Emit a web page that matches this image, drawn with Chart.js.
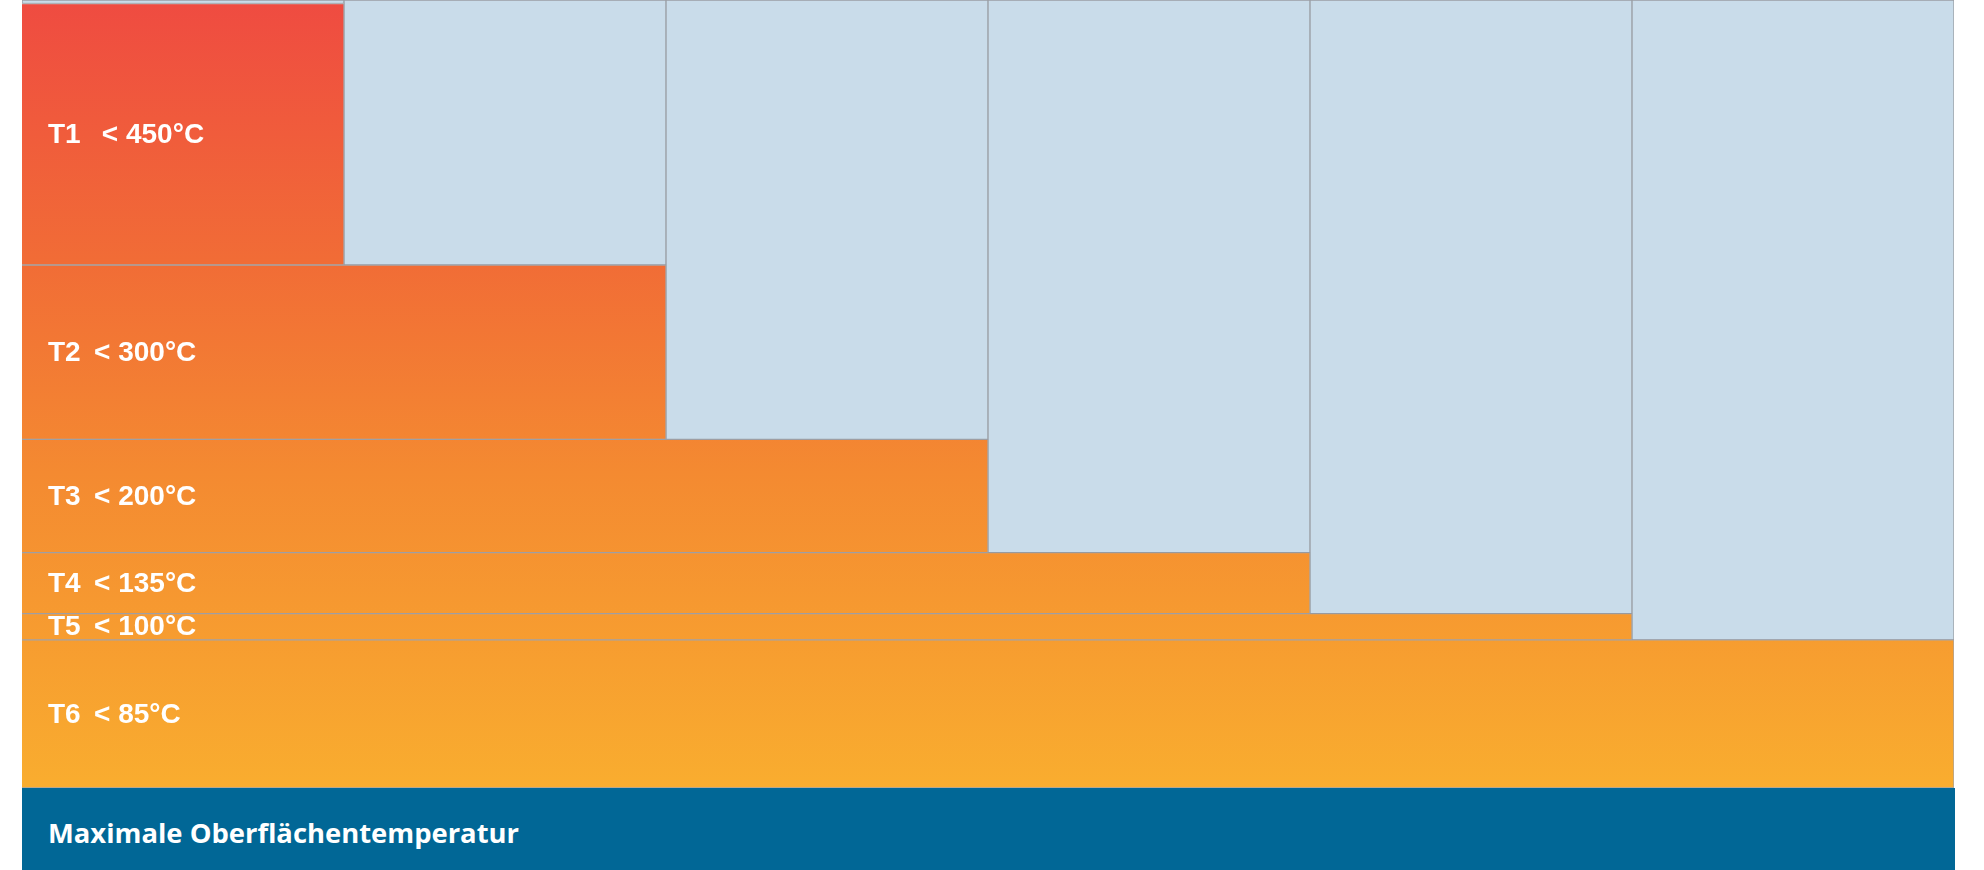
<!DOCTYPE html>
<html>
<head>
<meta charset="utf-8">
<script src="https://cdn.jsdelivr.net/npm/chart.js@4/dist/chart.umd.min.js"></script>
<style>
  body { margin: 0; background: #fff; width: 1984px; height: 870px; overflow: hidden; position: relative; }
  #wrap { position: absolute; left: 20px; top: 0; width: 1936px; height: 788px; }
  #footer {
    position: absolute; left: 22px; top: 788px; width: 1933px; height: 82px;
    background: #016796; color: #fff; box-sizing: border-box; padding-left: 26px;
    font: bold 27.4px "Open Sans", "Liberation Sans", sans-serif; line-height: 90px;
  }
</style>
</head>
<body>
<div id="wrap"><canvas id="chart"></canvas></div>
<div id="footer">Maximale Oberflächentemperatur</div>
<script>
// temperature classes, one column each
const categories = ["T1", "T2", "T3", "T4", "T5", "T6"];
const classLabels = ["T1  \u2009< 450°C", "T2 \u2009< 300°C", "T3 \u2009< 200°C", "T4 \u2009< 135°C", "T5 \u2009< 100°C", "T6 \u2009< 85°C"];
// max surface temperature of each class (°C)
const limits = [450, 300, 200, 135, 100, 85];
const axisTop = 452;

const lineColor = "rgba(150,150,155,0.85)";

let gradient = null;
function orangeFill(ctx) {
  const area = ctx.chart.chartArea;
  if (!area) return "#f39030";
  if (!gradient) {
    gradient = ctx.chart.ctx.createLinearGradient(0, area.top, 0, area.bottom);
    gradient.addColorStop(0, "#ef4b41");
    gradient.addColorStop(0.33, "#f16c36");
    gradient.addColorStop(0.6, "#f48a31");
    gradient.addColorStop(1, "#f9ad2f");
  }
  return gradient;
}

// one band per class: from the next lower limit up to its own limit,
// present in its own column and every column to the left
const bands = categories.map((c, k) => ({
  label: classLabels[k],
  data: categories.map((cc, i) => (i <= k ? [limits[k + 1] || 0, limits[k]] : null)),
  backgroundColor: orangeFill,
  borderColor: lineColor,
  borderWidth: (ctx) => ({ top: 1, bottom: 1, left: 0, right: ctx.dataIndex === k ? 1 : 0 }),
  borderSkipped: false,
}));

// light blue part above each column
const emptyPart = {
  label: "rest",
  data: limits.map((v) => [v, axisTop]),
  backgroundColor: "#c9dcea",
  borderColor: "#9a9ea4",
  borderWidth: 1,
  borderSkipped: false,
};

const bandLabels = {
  id: "bandLabels",
  afterDatasetsDraw(chart) {
    const ctx = chart.ctx;
    ctx.save();
    ctx.fillStyle = "#fff";
    ctx.font = "bold 28px 'Liberation Sans', Arial, sans-serif";
    ctx.textBaseline = "middle";
    bands.forEach((b, k) => {
      const el = chart.getDatasetMeta(k).data[0];
      ctx.fillText(b.label, el.x - el.width / 2 + 26, (el.y + el.base) / 2 + 1);
    });
    ctx.restore();
  },
};

new Chart(document.getElementById("chart"), {
  type: "bar",
  data: { labels: categories, datasets: [...bands, emptyPart] },
  options: {
    responsive: true,
    maintainAspectRatio: false,
    animation: false,
    layout: { padding: { left: 2, right: 2 } },
    datasets: { bar: { barPercentage: 1, categoryPercentage: 1 } },
    plugins: { legend: { display: false }, tooltip: { enabled: false } },
    scales: {
      x: { stacked: true, display: false },
      y: { min: 0, max: axisTop, display: false },
    },
  },
  plugins: [bandLabels],
});
</script>
</body>
</html>
